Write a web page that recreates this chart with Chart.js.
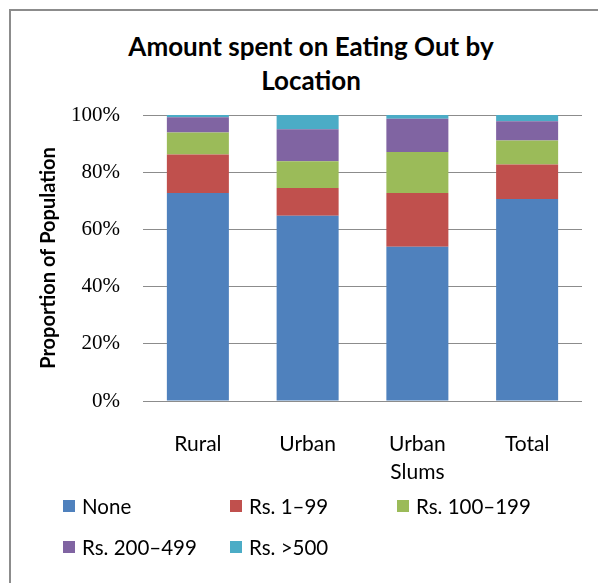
<!DOCTYPE html>
<html>
<head>
<meta charset="utf-8">
<script src="https://cdn.jsdelivr.net/npm/chart.js@4/dist/chart.umd.min.js"></script>
<style>
  html, body { margin: 0; padding: 0; background: #fff; }
  body { width: 598px; height: 583px; position: relative; overflow: hidden; font-family: Lato, "Open Sans", sans-serif; }
  .frame { position: absolute; left: 9px; top: 9px; width: 700px; height: 700px; border: 2px solid #8c8c8c; }
  .title { position: absolute; left: 0; width: 622px; top: 29px; text-align: center; font-weight: bold; font-size: 26px; line-height: 34px; color: #000; }
  #wrap { position: absolute; left: 0; top: 0; width: 598px; height: 583px; }
  .legend { position: absolute; left: 0; top: 0; }
  .lg-item { position: absolute; display: flex; align-items: center; font-size: 20.5px; line-height: 24px; color: #000; white-space: nowrap; }
  .lg-box { width: 12px; height: 12px; margin-right: 7px; }
</style>
</head>
<body>
<div class="frame"></div>
<div class="title">Amount spent on Eating Out by<br>Location</div>
<div id="wrap"><canvas id="chart" width="598" height="583"></canvas></div>
<div class="legend" id="legend"></div>

<script>
  // categorías y series (% de la población)
  const categories = ['Rural', 'Urban', ['Urban', 'Slums'], 'Total'];
  const seriesNames = ['None', 'Rs. 1\u201399', 'Rs. 100\u2013199', 'Rs. 200\u2013499', 'Rs. >500'];
  const seriesColors = ['#4F81BD', '#C0504D', '#9BBB59', '#8064A2', '#4BACC6'];
  const none      = [72.7, 64.8, 53.9, 70.6];
  const rs1_99    = [13.5,  9.7, 18.8, 12.1];
  const rs100_199 = [ 7.7,  9.3, 14.4,  8.4];
  const rs200_499 = [ 5.3, 11.2, 11.6,  6.7];
  const rs500     = [ 0.8,  5.0,  1.3,  2.2];
  const yTicks = [0, 20, 40, 60, 80, 100];

  const seriesValues = [none, rs1_99, rs100_199, rs200_499, rs500];

  const datasets = seriesNames.map((name, i) => ({
    label: name,
    data: seriesValues[i],
    backgroundColor: seriesColors[i],
    borderWidth: 0,
    categoryPercentage: 0.565,
    barPercentage: 1
  }));

  new Chart(document.getElementById('chart'), {
    type: 'bar',
    data: { labels: categories, datasets },
    options: {
      responsive: false,
      animation: false,
      layout: { padding: { left: 37, top: 115, right: 16, bottom: 0 } },
      plugins: { legend: { display: false }, tooltip: { enabled: false } },
      scales: {
        x: {
          stacked: true,
          grid: { display: false },
          border: { display: false },
          ticks: { color: '#000', padding: 21, font: { family: 'Lato', size: 21, lineHeight: 1.35 }, maxRotation: 0 },
          afterFit: s => { s.height = 182; }
        },
        y: {
          stacked: true,
          min: 0, max: 100,
          afterBuildTicks: s => { s.ticks = yTicks.map(v => ({ value: v })); },
          grid: { color: '#8c8c8c', drawTicks: false, lineWidth: 1 },
          border: { display: false },
          ticks: { color: '#000', padding: 23, font: { family: 'Liberation Serif', size: 21 }, callback: v => v + '%' },
          title: { display: true, text: 'Proportion of Population', color: '#000', padding: 0, font: { family: 'Lato', size: 20, weight: 'bold' } },
          afterFit: s => { s.width = 106; }
        }
      }
    }
  });

  // leyenda en cuadrícula como en el original
  const legendPos = [[63, 494], [230, 494], [397, 494], [63, 535], [230, 535]];
  document.getElementById('legend').innerHTML = seriesNames.map((n, i) =>
    `<div class="lg-item" style="left:${legendPos[i][0]}px;top:${legendPos[i][1]}px">
       <span class="lg-box" style="background:${seriesColors[i]}"></span>${n}
     </div>`).join('');
</script>
</body>
</html>
